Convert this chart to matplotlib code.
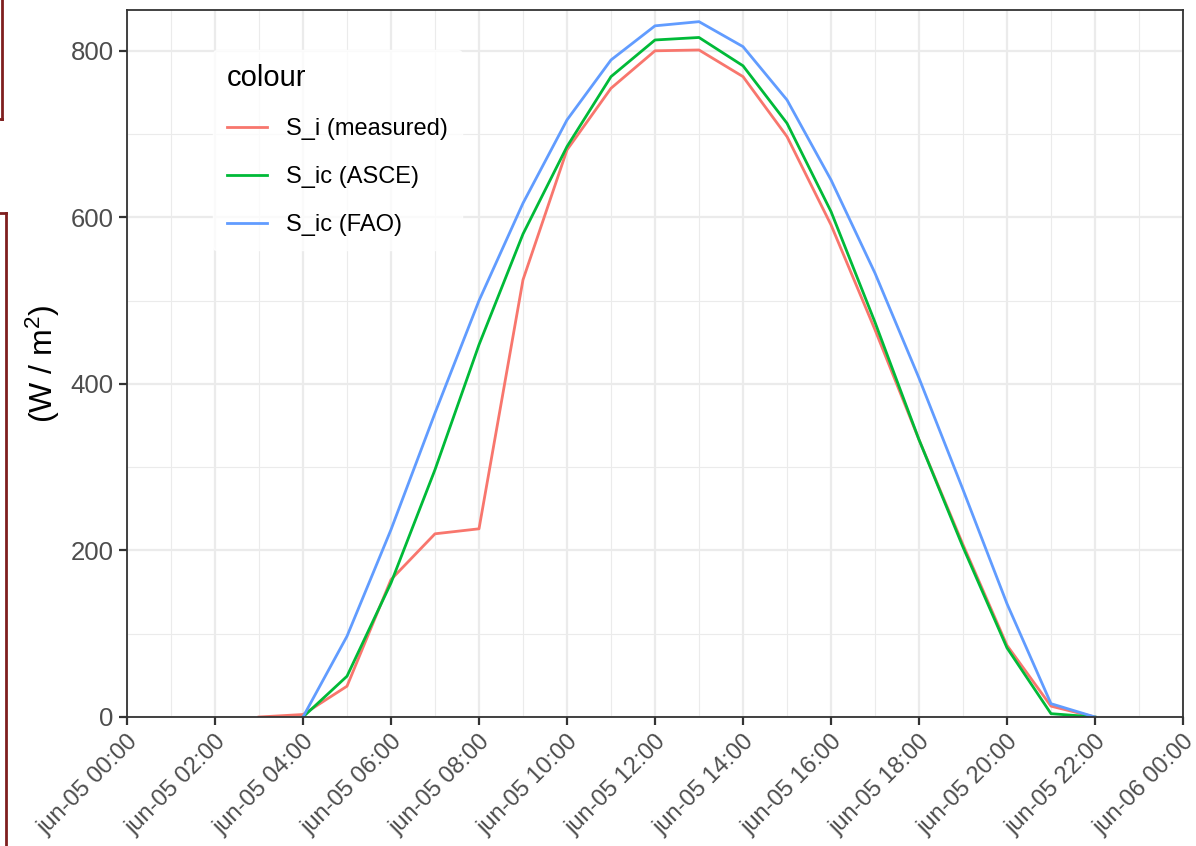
import datetime as dt

import matplotlib
matplotlib.use("Agg")
import matplotlib.pyplot as plt
import matplotlib.dates as mdates
from matplotlib.lines import Line2D

plt.rcParams['font.family'] = ['Liberation Sans', 'DejaVu Sans']
plt.rcParams['mathtext.default'] = 'regular'

# hourly radiation for 5 June (W/m2)
hours_measured = list(range(3, 23))
s_i_measured = [0, 3, 37, 165, 220, 226, 525, 681, 755, 800, 801, 769, 697,
                591, 465, 333, 207, 86, 13, 0]

hours_clear = list(range(4, 23))
s_ic_asce = [0, 49, 161, 297, 447, 580, 685, 769, 813, 816, 782, 713, 607,
             474, 333, 204, 83, 4, 0]
s_ic_fao = [0, 97, 225, 365, 500, 617, 717, 789, 830, 835, 805, 741, 645,
            533, 407, 273, 136, 16, 0]

day = dt.datetime(2019, 6, 5)
t_measured = [day + dt.timedelta(hours=h) for h in hours_measured]
t_clear = [day + dt.timedelta(hours=h) for h in hours_clear]

fig = plt.figure(figsize=(11.96, 8.46), dpi=100)
ax = fig.add_axes([127 / 1196, 1 - 717 / 846, (1183 - 127) / 1196, (717 - 10) / 846])

ax.plot(t_measured, s_i_measured, color='#F8766D', lw=2, label='S_i (measured)')
ax.plot(t_clear, s_ic_asce, color='#00BA38', lw=2, label='S_ic (ASCE)')
ax.plot(t_clear, s_ic_fao, color='#619CFF', lw=2, label='S_ic (FAO)')

ax.set_xlim(day, day + dt.timedelta(hours=24))
ax.set_ylim(0, 849)

ax.xaxis.set_major_locator(mdates.HourLocator(byhour=range(0, 24, 2)))
ax.xaxis.set_minor_locator(mdates.HourLocator(byhour=range(1, 24, 2)))
ax.xaxis.set_major_formatter(mdates.DateFormatter('jun-%d %H:%M'))
ax.set_yticks([0, 200, 400, 600, 800])
ax.set_yticks([100, 300, 500, 700], minor=True)

ax.grid(which='major', color='#EBEBEB', lw=1.6)
ax.grid(which='minor', color='#EBEBEB', lw=0.8)
ax.set_axisbelow(True)

for s in ax.spines.values():
    s.set_color('#333333')
    s.set_linewidth(1.3)

ax.tick_params(which='major', length=6, width=1.6, color='#333333',
               labelsize=18.5, labelcolor='#4D4D4D')
ax.tick_params(axis='x', labelsize=17)
ax.tick_params(which='minor', length=0)
for lab in ax.get_xticklabels():
    lab.set_rotation(45)
    lab.set_ha('right')
    lab.set_va('top')
    lab.set_rotation_mode('anchor')

ax.set_ylabel('(W / m$^2$)', fontsize=23, labelpad=6)

leg = ax.legend(title='colour', loc='upper left', bbox_to_anchor=(0.07, 0.96),
                frameon=True, fontsize=17, title_fontsize=21, handlelength=1.7,
                handletextpad=0.8, labelspacing=1.1, borderpad=0.6)
leg.get_frame().set_facecolor('white')
leg.get_frame().set_edgecolor('white')
leg._legend_box.align = 'left'

# dark red frame edges on the left border
red = '#7F1F1F'
fig.add_artist(Line2D([2 / 1196, 2 / 1196], [1, 1 - 119 / 846],
                      transform=fig.transFigure, color=red, lw=2))
fig.add_artist(Line2D([0, 2 / 1196], [1 - 119 / 846, 1 - 119 / 846],
                      transform=fig.transFigure, color=red, lw=2))
fig.add_artist(Line2D([6 / 1196, 6 / 1196], [1 - 213 / 846, 0],
                      transform=fig.transFigure, color=red, lw=2))
fig.add_artist(Line2D([0, 6 / 1196], [1 - 213 / 846, 1 - 213 / 846],
                      transform=fig.transFigure, color=red, lw=2))

fig.savefig('out.png', dpi=100)
